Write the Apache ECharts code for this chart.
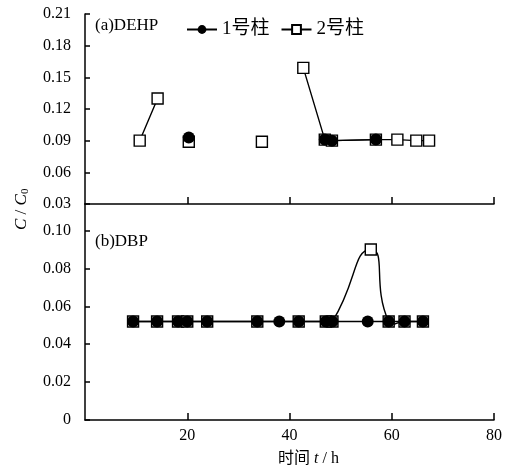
<!DOCTYPE html>
<html>
<head>
<meta charset="utf-8">
<script src="https://cdn.jsdelivr.net/npm/echarts@6/dist/echarts.min.js"></script>
<style>
    html, body { margin: 0; padding: 0; background: #fff; }
    #main { width: 506px; height: 472px; }
</style>
</head>
<body>
<div id="main"></div>
<script>
'use strict';

// (a) DEHP, null = gap in the line
var dehpTime1 = [20.3, null, 46.9, 48.3, 56.9];
var dehpC1    = [0.093, null, 0.091, 0.090, 0.091];
var dehpTime2 = [10.7, 14.2, null, 20.3, null, 34.6, null, 42.7, 46.9, 48.3, 56.9, 61.1, 64.8, 67.3];
var dehpC2    = [0.090, 0.130, null, 0.089, null, 0.089, null, 0.159, 0.091, 0.090, 0.091, 0.091, 0.090, 0.090];

// (b) DBP
var dbpTime1 = [9.4, 14.1, 18.2, 20.0, 23.9, 33.7, 38.0, 41.8, 47.1, 48.4, 55.3, 59.4, 62.5, 66.1];
var dbpC1    = [0.052, 0.052, 0.052, 0.052, 0.052, 0.052, 0.052, 0.052, 0.052, 0.052, 0.052, 0.052, 0.052, 0.052];
var dbpTime2 = [9.4, 14.1, 18.2, 20.0, 23.9, 33.7, 41.8, 47.1, 48.4, 55.9, 59.4, 62.5, 66.1];
var dbpC2    = [0.052, 0.052, 0.052, 0.052, 0.052, 0.052, 0.052, 0.052, 0.052, 0.090, 0.052, 0.052, 0.052];

var dehpTicks = [0.03, 0.06, 0.09, 0.12, 0.15, 0.18, 0.21];
var dbpTicks = [0, 0.02, 0.04, 0.06, 0.08, 0.10];
var timeTicks = [20, 40, 60, 80];

var seriesNames = ['1号柱', '2号柱'];

var font = "'Liberation Serif', 'Times New Roman', 'Noto Sans CJK SC', serif";

var pairs = function (xs, ys) {
    var res = [];
    for (var i = 0; i < xs.length; i++) {
        res.push(ys[i] === null ? '-' : [xs[i], ys[i]]);
    }
    return res;
};

var myChart = echarts.init(document.getElementById('main'));

var axisLine = { show: true, onZero: false, lineStyle: { color: '#000', width: 1.5 } };

var xAxisBase = function (idx, showLabel) {
    return {
        type: 'value',
        gridIndex: idx,
        min: 0,
        max: 80,
        interval: 20,
        axisLine: axisLine,
        axisTick: { show: true, inside: true, length: 7, customValues: timeTicks, lineStyle: { color: '#000', width: 1.5 } },
        axisLabel: { show: showLabel, customValues: timeTicks, color: '#000', fontFamily: font, fontSize: 16, margin: 8 },
        splitLine: { show: false }
    };
};

var lineSeries = function (name, data, xi, showLine) {
    var isOne = name === seriesNames[0];
    return {
        name: name,
        type: 'line',
        xAxisIndex: xi,
        yAxisIndex: xi,
        data: data,
        connectNulls: false,
        symbol: isOne ? 'circle' : 'rect',
        symbolSize: isOne ? 12 : 11,
        showAllSymbol: true,
        z: isOne ? 4 : 3,
        lineStyle: { color: '#000', width: 1.4, opacity: showLine ? 1 : 0 },
        itemStyle: isOne
            ? { color: '#000', borderColor: '#000', borderWidth: 0 }
            : { color: '#fff', borderColor: '#000', borderWidth: 1.4 },
        emphasis: { disabled: true },
        animation: false
    };
};

// smoothed curve like the spreadsheet one (no clamping of control points)
var smoothCurve = function (xs, ys, xi, k) {
    return {
        type: 'custom',
        xAxisIndex: xi,
        yAxisIndex: xi,
        z: 2,
        silent: true,
        encode: { x: 0, y: 1 },
        data: pairs(xs, ys),
        renderItem: function (params, api) {
            if (params.dataIndex !== 0) {
                return null;
            }
            var p = [];
            for (var i = 0; i < xs.length; i++) {
                p.push(api.coord([xs[i], ys[i]]));
            }
            var d = 'M' + p[0][0] + ',' + p[0][1];
            var ctrl = function (i) {
                var prev = p[Math.max(i - 1, 0)];
                var next = p[Math.min(i + 1, p.length - 1)];
                var cur = p[i];
                var l0 = Math.hypot(cur[0] - prev[0], cur[1] - prev[1]);
                var l1 = Math.hypot(next[0] - cur[0], next[1] - cur[1]);
                var r = (l0 + l1) ? l1 / (l0 + l1) : 0.5;
                var vx = next[0] - prev[0];
                var vy = next[1] - prev[1];
                return {
                    inX: cur[0] - vx * k * (1 - r), inY: cur[1] - vy * k * (1 - r),
                    outX: cur[0] + vx * k * r, outY: cur[1] + vy * k * r
                };
            };
            for (var j = 0; j < p.length - 1; j++) {
                var a = ctrl(j);
                var b = ctrl(j + 1);
                d += ' C' + a.outX + ',' + a.outY + ' ' + b.inX + ',' + b.inY + ' ' + p[j + 1][0] + ',' + p[j + 1][1];
            }
            return {
                type: 'path',
                shape: { pathData: d },
                style: { fill: null, stroke: '#000', lineWidth: 1.4 }
            };
        },
        animation: false
    };
};

var option = {
    backgroundColor: '#fff',
    animation: false,
    textStyle: { fontFamily: font },
    grid: [
        { left: 85, right: 12, top: 14, height: 190 },
        { left: 85, right: 12, top: 204, height: 216 }
    ],
    legend: {
        left: 181,
        top: 15,
        itemWidth: 30,
        itemHeight: 11,
        itemGap: 11,
        data: seriesNames,
        textStyle: { color: '#000', fontFamily: font, fontSize: 19 }
    },
    xAxis: [xAxisBase(0, false), xAxisBase(1, true)],
    yAxis: [
        {
            type: 'value',
            gridIndex: 0,
            min: 0.03,
            max: 0.21,
            interval: 0.03,
            axisLine: axisLine,
            axisTick: { show: true, inside: true, length: 5, lineStyle: { color: '#000', width: 1.5 } },
            axisLabel: {
                color: '#000', fontFamily: font, fontSize: 16, margin: 14,
                formatter: function (v) { return v.toFixed(2); }
            },
            splitLine: { show: false }
        },
        {
            type: 'value',
            gridIndex: 1,
            min: 0,
            max: 0.114,
            axisLine: axisLine,
            axisTick: { show: true, inside: true, length: 5, customValues: dbpTicks, lineStyle: { color: '#000', width: 1.5 } },
            axisLabel: {
                color: '#000', fontFamily: font, fontSize: 16, margin: 14, customValues: dbpTicks,
                formatter: function (v) { return v === 0 ? '0' : v.toFixed(2); }
            },
            splitLine: { show: false }
        }
    ],
    graphic: [
        {
            type: 'text', left: 95, top: 17,
            style: { text: '(a)DEHP', fill: '#000', font: '17px ' + font }
        },
        {
            type: 'text', left: 95, top: 233,
            style: { text: '(b)DBP', fill: '#000', font: '17px ' + font }
        },
        {
            type: 'text', x: 12, y: 230, rotation: Math.PI / 2,
            style: {
                text: '{i|C} / {i|C}{s|0}',
                fill: '#000',
                font: '17px ' + font,
                rich: {
                    i: { fontStyle: 'italic', fontSize: 17, fontFamily: font },
                    s: { fontSize: 11, fontFamily: font, padding: [8, 0, 0, 0] }
                }
            }
        },
        {
            type: 'text', x: 278, y: 451,
            style: {
                text: '时间 {i|t} / h',
                fill: '#000',
                font: '16px ' + font,
                rich: { i: { fontStyle: 'italic', fontSize: 16, fontFamily: font } }
            }
        }
    ],
    series: [
        lineSeries(seriesNames[1], pairs(dehpTime2, dehpC2), 0, true),
        lineSeries(seriesNames[0], pairs(dehpTime1, dehpC1), 0, true),
        smoothCurve(dbpTime2, dbpC2, 1, 0.6),
        lineSeries(seriesNames[1], pairs(dbpTime2, dbpC2), 1, false),
        lineSeries(seriesNames[0], pairs(dbpTime1, dbpC1), 1, true)
    ]
};

myChart.setOption(option);
</script>
</body>
</html>
